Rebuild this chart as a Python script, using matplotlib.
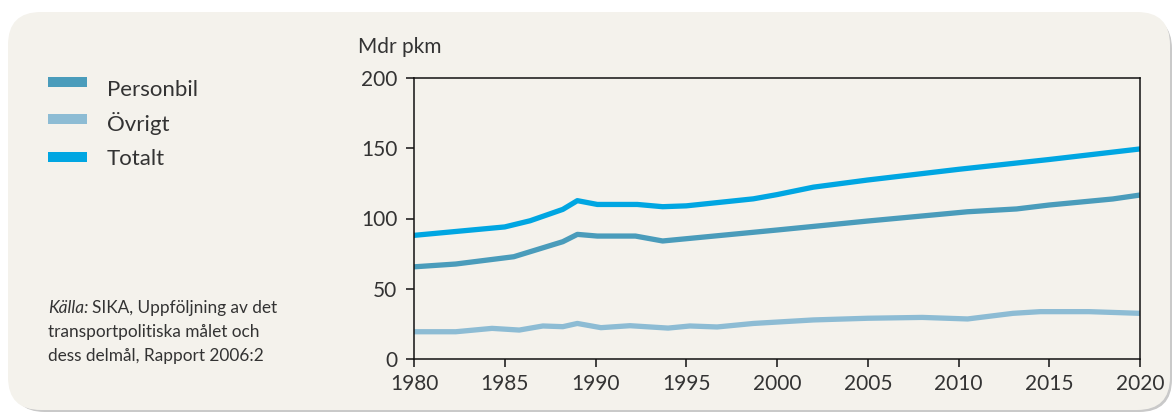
import matplotlib.pyplot as plt
from matplotlib.patches import FancyBboxPatch, Rectangle

# ========= Data (Mdr pkm) =========
years_total = [1980, 1985, 1986.4, 1988.2, 1989, 1990.1, 1992.3, 1993.7, 1995,
               1998.7, 2000, 2002, 2005, 2010, 2015, 2020]
totalt = [88, 94, 98.4, 106.5, 112.7, 110, 110, 108.4, 109,
          114, 117, 122.3, 127.4, 135, 142, 149.5]

years_bil = [1980, 1982.3, 1985.5, 1988.2, 1989, 1990.1, 1992.2, 1993.7,
             2000, 2005, 2010.5, 2013.2, 2015, 2018.5, 2020]
personbil = [65.6, 67.6, 72.8, 83.5, 88.7, 87.5, 87.5, 84,
             91.8, 98.2, 104.8, 106.8, 109.6, 113.9, 116.7]

years_ovr = [1980, 1982.3, 1984.3, 1985.8, 1987.1, 1988.2, 1989, 1990.3, 1991.9,
             1994, 1995.2, 1996.7, 1998.7, 2002, 2005, 2008, 2010.5, 2013,
             2014.5, 2017.2, 2020]
ovrigt = [19.4, 19.4, 21.8, 20.6, 23.5, 23, 25.3, 22.3, 23.7,
          22, 23.5, 22.8, 25.3, 27.8, 29, 29.6, 28.5, 32.5,
          33.7, 33.7, 32.5]

series_labels = ["Personbil", "Övrigt", "Totalt"]
series_colors = ["#4a9cbb", "#8dbcd4", "#00a6e2"]
x_ticks = list(range(1980, 2021, 5))
y_ticks = [0, 50, 100, 150, 200]

plt.rcParams["font.family"] = ["Lato", "DejaVu Sans"]
text_color = "#333333"

W, H = 1174, 416
fig = plt.figure(figsize=(W / 100, H / 100), dpi=100)
fig.patch.set_facecolor("white")

# rounded panel with a soft shadow (drawn behind the axes)
shadow = FancyBboxPatch((12 / W, 4 / H), 1160 / W, 396 / H,
                        boxstyle="round,pad=0,rounding_size=0.028",
                        transform=fig.transFigure, facecolor="#c9c9c9",
                        edgecolor="none", mutation_aspect=W / H, zorder=-3)
panel = FancyBboxPatch((8 / W, 6 / H), 1162 / W, 398 / H,
                       boxstyle="round,pad=0,rounding_size=0.028",
                       transform=fig.transFigure, facecolor="#f4f2ec",
                       edgecolor="none", mutation_aspect=W / H, zorder=-2)
fig.patches.extend([shadow, panel])

ax = fig.add_axes([414 / W, 1 - 359 / H, (1140 - 414) / W, (359 - 78) / H])
ax.set_facecolor("#f4f2ec")
ax.set_zorder(2)

lw = 3.8
ax.plot(years_ovr, ovrigt, color=series_colors[1], lw=lw, solid_joinstyle="round")
ax.plot(years_bil, personbil, color=series_colors[0], lw=lw, solid_joinstyle="round")
ax.plot(years_total, totalt, color=series_colors[2], lw=lw, solid_joinstyle="round")

ax.set_xlim(1980, 2020)
ax.set_ylim(0, 200)
ax.set_xticks(x_ticks)
ax.set_yticks(y_ticks)
ax.tick_params(axis="both", direction="out", length=6, width=1.1,
               labelsize=15, colors="#111111", labelcolor=text_color)
ax.tick_params(axis="x", pad=5)
ax.tick_params(axis="y", pad=6)
for s in ax.spines.values():
    s.set_linewidth(1.1)
    s.set_color("#111111")

fig.text(358 / W, 1 - 53 / H, "Mdr pkm", fontsize=15, color=text_color,
         va="baseline", ha="left")

# legend
leg_y = [82, 119, 157]
leg_base = [96, 131, 165]
for lab, col, yy, yb in zip(series_labels, series_colors, leg_y, leg_base):
    fig.patches.append(Rectangle((48 / W, 1 - (yy + 5) / H), 39 / W, 10 / H,
                                 transform=fig.transFigure, facecolor=col,
                                 edgecolor="none", zorder=1))
    fig.text(107 / W, 1 - yb / H, lab, fontsize=16, color=text_color,
             va="baseline", ha="left")

# source
src_x = 48 / W
fs = 12.4
fig.text(src_x, 1 - 313 / H, "Källa:", fontsize=fs, style="italic",
         color=text_color, va="baseline", ha="left")
fig.text(src_x + 44 / W, 1 - 313 / H, "SIKA, Uppföljning av det",
         fontsize=fs, color=text_color, va="baseline", ha="left")
fig.text(src_x, 1 - 337 / H, "transportpolitiska målet och", fontsize=fs,
         color=text_color, va="baseline", ha="left")
fig.text(src_x, 1 - 361 / H, "dess delmål, Rapport 2006:2", fontsize=fs,
         color=text_color, va="baseline", ha="left")

fig.savefig("out.png", dpi=100, facecolor=fig.get_facecolor())
